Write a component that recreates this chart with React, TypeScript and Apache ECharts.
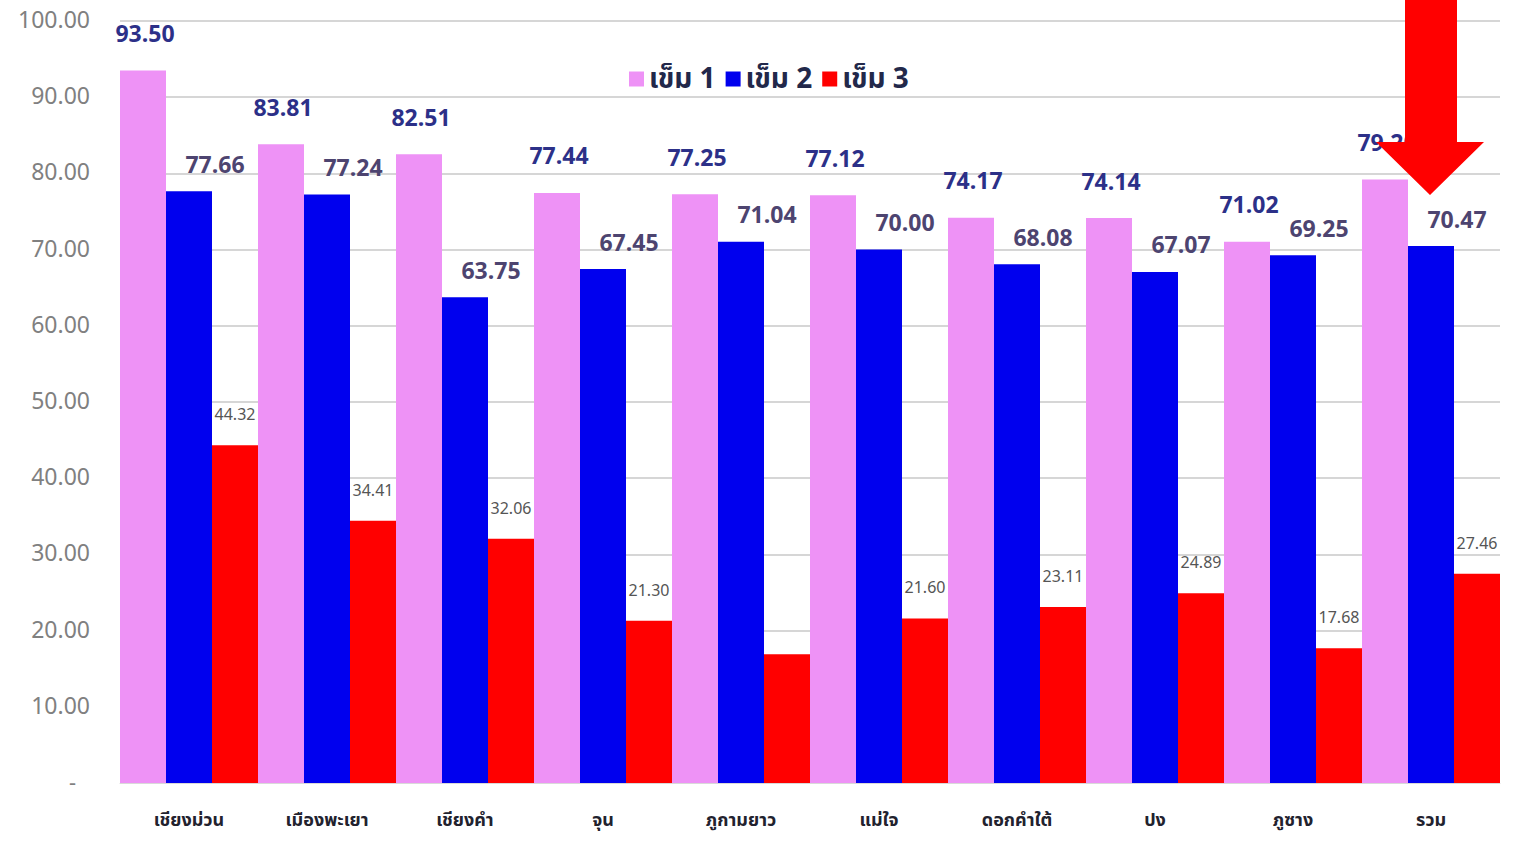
import React, { useEffect, useRef } from "react";
import * as echarts from "echarts";

const categories = ["เชียงม่วน", "เมืองพะเยา", "เชียงคำ", "จุน", "ภูกามยาว", "แม่ใจ", "ดอกคำใต้", "ปง", "ภูซาง", "รวม"];
const dose1 = [93.5, 83.81, 82.51, 77.44, 77.25, 77.12, 74.17, 74.14, 71.02, 79.2];
const dose2 = [77.66, 77.24, 63.75, 67.45, 71.04, 70.0, 68.08, 67.07, 69.25, 70.47];
const dose3 = [44.32, 34.41, 32.06, 21.3, 16.9, 21.6, 23.11, 24.89, 17.68, 27.46];
const hiddenDose3Labels = [4];
const seriesNames = ["เข็ม 1", "เข็ม 2", "เข็ม 3"];
const colors = ["#ee92f6", "#0000ee", "#ff0000"];

const FONT = "'Noto Sans Thai', 'Noto Sans', Tahoma, 'DejaVu Sans', sans-serif";

export default function App() {
  const ref = useRef<HTMLDivElement>(null);
  useEffect(() => {
    if (!ref.current) return;
    const chart = echarts.init(ref.current, null, { renderer: "svg" });
    const option: any = {
      animation: false,
      backgroundColor: "#ffffff",
      textStyle: { fontFamily: FONT },
      legend: {
        top: 60,
        left: 624,
        itemWidth: 15,
        itemHeight: 15,
        itemGap: 10,
        icon: "rect",
        textStyle: { fontSize: 28, fontWeight: "bold", color: "#22284a", fontFamily: FONT },
        data: seriesNames,
      },
      grid: { left: 120, right: 24, top: 21, bottom: 58, containLabel: false },
      xAxis: {
        type: "category",
        data: categories,
        axisTick: { show: false },
        axisLine: { show: true, lineStyle: { color: "#d9d9d9", width: 1 } },
        axisLabel: { fontSize: 18, fontWeight: "bold", color: "#22222e", margin: 28, fontFamily: FONT },
      },
      yAxis: {
        type: "value",
        min: 0,
        max: 100,
        interval: 10,
        axisLine: { show: false },
        axisTick: { show: false },
        splitLine: { lineStyle: { color: "#d6d6d6", width: 2 } },
        axisLabel: {
          fontSize: 23,
          color: "#808080",
          margin: 30,
          fontFamily: FONT,
          formatter: (v: number) => (v === 0 ? "{dash|-}" : v.toFixed(2)),
          rich: { dash: { fontSize: 22, color: "#808080", padding: [0, 14, 0, 0] } },
        },
      },
      series: [
        {
          name: seriesNames[0],
          type: "bar",
          data: dose1,
          barGap: "0%",
          barCategoryGap: "0%",
          itemStyle: { color: colors[0] },
          label: {
            show: true,
            position: "top",
            distance: 24,
            offset: [2, 0],
            fontSize: 23,
            fontWeight: "bold",
            color: "#2c3088",
            fontFamily: FONT,
            formatter: (p: any) => p.value.toFixed(2),
          },
        },
        {
          name: seriesNames[1],
          type: "bar",
          data: dose2,
          itemStyle: { color: colors[1] },
          label: {
            show: true,
            position: "top",
            distance: 14,
            offset: [26, 0],
            fontSize: 23,
            fontWeight: "bold",
            color: "#4d4470",
            fontFamily: FONT,
            formatter: (p: any) => p.value.toFixed(2),
          },
        },
        {
          name: seriesNames[2],
          type: "bar",
          data: dose3.map((v, i) =>
            hiddenDose3Labels.includes(i) ? { value: v, label: { show: false } } : v
          ),
          itemStyle: { color: colors[2] },
          label: {
            show: true,
            position: "top",
            distance: 22,
            offset: [0, 0],
            fontSize: 16,
            color: "#555555",
            fontFamily: FONT,
            formatter: (p: any) => Number(p.value).toFixed(2),
          },
        },
      ],
      graphic: [
        {
          type: "polygon",
          z: 100,
          shape: {
            points: [
              [1405, 0],
              [1457, 0],
              [1457, 142],
              [1484, 142],
              [1430, 195],
              [1376, 142],
              [1405, 142],
            ],
          },
          style: { fill: "#ff0000" },
        },
      ],
    };
    chart.setOption(option);
    return () => chart.dispose();
  }, []);
  return (
    <div
      ref={ref}
      style={{ position: "fixed", left: 0, top: 0, width: 1524, height: 841, background: "#fff" }}
    />
  );
}
